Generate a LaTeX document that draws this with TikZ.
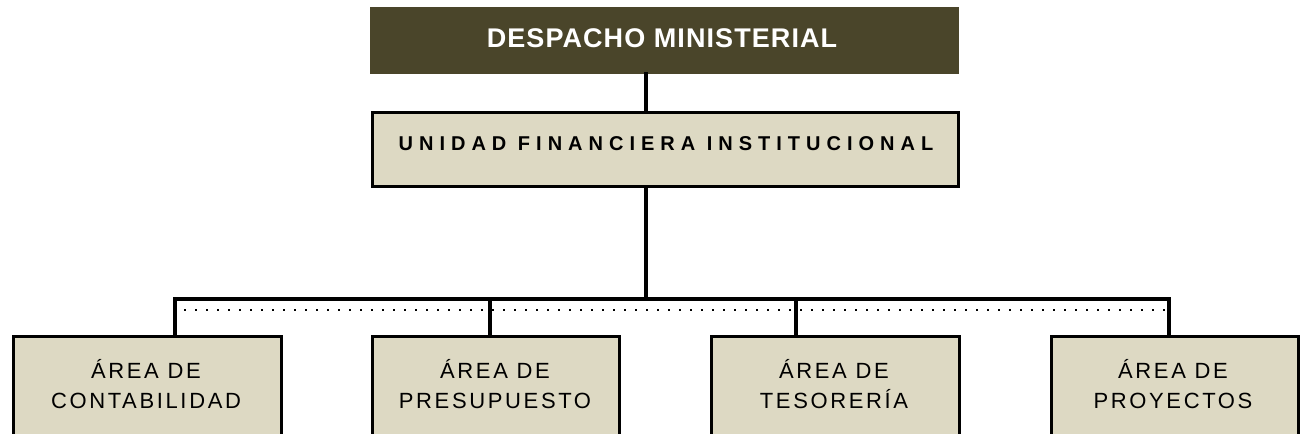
\documentclass[tikz,border=0pt]{standalone}
\usepackage{fontspec}
\setmainfont{Liberation Sans}
\newfontfamily\dmfont[LetterSpace=4]{Liberation Sans}
\newfontfamily\ufifont[LetterSpace=30]{Liberation Sans}
\newfontfamily\areafont[LetterSpace=12]{Liberation Sans}
\definecolor{olive}{HTML}{4A452A}
\definecolor{sand}{HTML}{DDD9C3}
\begin{document}
\begin{tikzpicture}[x=1pt,y=-1pt,
  topbox/.style={draw=olive,fill=olive,line width=1pt,minimum width=588pt,minimum height=66pt,inner sep=0pt,anchor=north west},
  midbox/.style={draw=black,fill=sand,line width=2.8pt,minimum width=586pt,minimum height=74pt,inner sep=0pt,anchor=north west},
  areabox/.style={draw=black,fill=sand,line width=2.8pt,minimum height=110pt,inner sep=0pt,anchor=north west},
  areatxt/.style={align=center,font=\areafont\fontsize{22}{29.5}\selectfont,inner sep=0pt},
  conn/.style={line width=3.2pt,line cap=rect},
  dots/.style={line width=2pt,dash pattern=on 2pt off 9pt}]
\useasboundingbox (0,0) rectangle (1302,434);
\clip (0,0) rectangle (1302,434);
\fill[white] (0,0) rectangle (1302,434);
% boxes
\node[topbox] (dm) at (370,7) {};
\node[text=white,font=\dmfont\bfseries\fontsize{27}{27}\selectfont,inner sep=0pt] (dmt) at (662,38) {DESPACHO MINISTERIAL};
\node[midbox] (ufi) at (371,111) {};
\node[font=\ufifont\bfseries\fontsize{20}{20}\selectfont,inner sep=0pt] (ufit) at (666,144) {UNIDAD FINANCIERA INSTITUCIONAL};
\node[areabox,minimum width=268pt] (a1) at (12,335) {};
\node[areabox,minimum width=247pt] (a2) at (371,335) {};
\node[areabox,minimum width=248pt] (a3) at (710,335) {};
\node[areabox,minimum width=247pt] (a4) at (1050,335) {};
\node[areatxt] (t1) at (146,384) {ÁREA DE\\CONTABILIDAD};
\node[areatxt] (t2) at (495,384) {ÁREA DE\\PRESUPUESTO};
\node[areatxt] (t3) at (834,384) {ÁREA DE\\TESORERÍA};
\node[areatxt] (t4) at (1173,384) {ÁREA DE\\PROYECTOS};
% junctions
\coordinate (j0) at (646,299);
\coordinate (j1) at (175,299);
\coordinate (j2) at (490,299);
\coordinate (j3) at (796,299);
\coordinate (j4) at (1169,299);
\coordinate (d1) at (184,310);
\coordinate (d2) at (1166,310);
% connectors
\draw[conn] (dm.south -| j0) -- (ufi.north -| j0);
\draw[conn] (ufi.south -| j0) -- (j0);
\draw[conn] (j1) -- (j4);
\draw[conn] (j1) -- (a1.north -| j1);
\draw[conn] (j2) -- (a2.north -| j2);
\draw[conn] (j3) -- (a3.north -| j3);
\draw[conn] (j4) -- (a4.north -| j4);
\draw[dots] (d1) -- (d2);
\end{tikzpicture}
\end{document}
